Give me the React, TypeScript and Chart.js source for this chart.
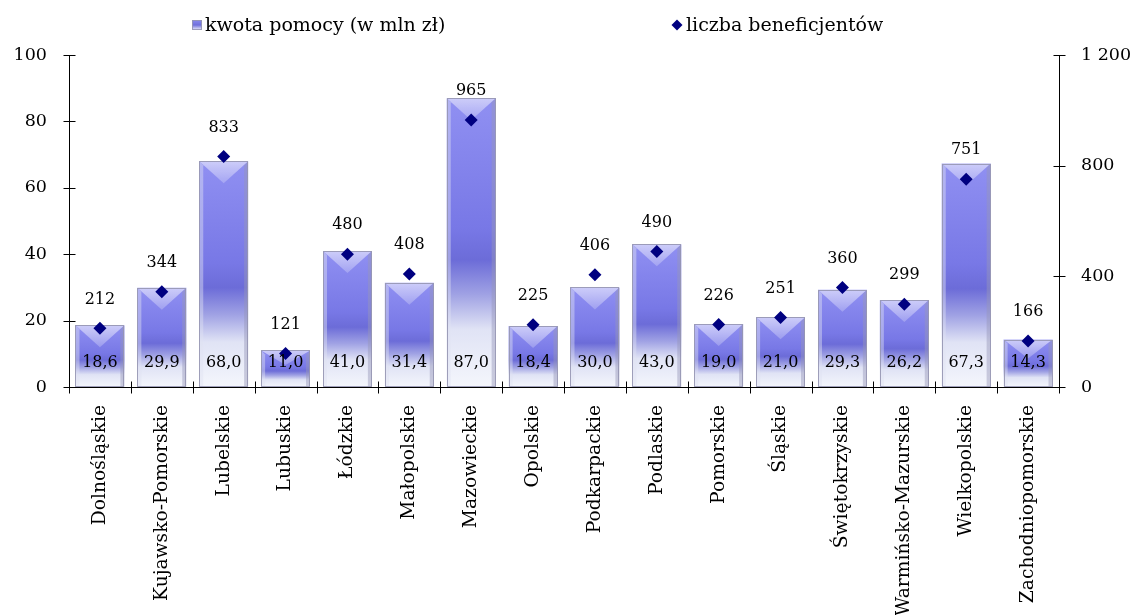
import { useEffect, useRef } from 'react';
import { Chart, registerables } from 'chart.js';

Chart.register(...registerables);

const categories = [
  'Dolnośląskie', 'Kujawsko-Pomorskie', 'Lubelskie', 'Lubuskie', 'Łódzkie', 'Małopolskie',
  'Mazowieckie', 'Opolskie', 'Podkarpackie', 'Podlaskie', 'Pomorskie', 'Śląskie',
  'Świętokrzyskie', 'Warmińsko-Mazurskie', 'Wielkopolskie', 'Zachodniopomorskie',
];
const kwotaPomocy = [18.6, 29.9, 68.0, 11.0, 41.0, 31.4, 87.0, 18.4, 30.0, 43.0, 19.0, 21.0, 29.3, 26.2, 67.3, 14.3];
const liczbaBeneficjentow = [212, 344, 833, 121, 480, 408, 965, 225, 406, 490, 226, 251, 360, 299, 751, 166];
const leftTicks = [0, 20, 40, 60, 80, 100];
const rightTicks = [0, 400, 800, 1200];
const seriesNames = ['kwota pomocy (w mln zł)', 'liczba beneficjentów'];

const FONT = '"DejaVu Serif", serif';

const fmtDec = (v: number) => v.toFixed(1).replace('.', ',');
const fmtThousands = (v: number) =>
  v >= 1000 ? Math.floor(v / 1000) + '\u00a0' + String(v % 1000).padStart(3, '0') : String(v);

function barGradient(ctx: CanvasRenderingContext2D, top: number, base: number) {
  const g = ctx.createLinearGradient(0, top, 0, base);
  g.addColorStop(0, '#9090f2');
  g.addColorStop(0.45, '#7878e6');
  g.addColorStop(0.56, '#6c6cd8');
  g.addColorStop(0.68, '#a0a2e4');
  g.addColorStop(0.8, '#e0e3f5');
  g.addColorStop(1, '#f4f6fc');
  return g;
}

const bevelPlugin = {
  id: 'bevel',
  afterDatasetDraw(chart: any, args: any) {
    if (args.index !== 0) return;
    const ctx: CanvasRenderingContext2D = chart.ctx;
    const meta = chart.getDatasetMeta(0);
    ctx.save();
    meta.data.forEach((el: any) => {
      const { x, y, base, width } = el.getProps(['x', 'y', 'base', 'width'], true);
      const l = x - width / 2;
      const r = x + width / 2;
      const h = base - y;
      const s = 4;
      ctx.fillStyle = 'rgba(225,226,242,0.45)';
      ctx.beginPath();
      ctx.moveTo(l, y); ctx.lineTo(l + s, y + s); ctx.lineTo(l + s, base); ctx.lineTo(l, base);
      ctx.closePath(); ctx.fill();
      ctx.fillStyle = 'rgba(150,150,185,0.45)';
      ctx.beginPath();
      ctx.moveTo(r, y); ctx.lineTo(r - s, y + s); ctx.lineTo(r - s, base); ctx.lineTo(r, base);
      ctx.closePath(); ctx.fill();
      const d = Math.min(22, h * 0.4);
      const g = ctx.createLinearGradient(0, y, 0, y + d);
      g.addColorStop(0, 'rgba(255,255,255,0.55)');
      g.addColorStop(1, 'rgba(255,255,255,0.22)');
      ctx.fillStyle = g;
      ctx.beginPath();
      ctx.moveTo(l, y); ctx.lineTo(r, y); ctx.lineTo(x, y + d);
      ctx.closePath(); ctx.fill();
      ctx.strokeStyle = 'rgba(150,150,178,0.9)';
      ctx.lineWidth = 1;
      ctx.strokeRect(Math.round(l) + 0.5, Math.round(y) + 0.5, Math.round(width) - 1, Math.round(h) - 1);
    });
    ctx.restore();
  },
};

const decorPlugin = {
  id: 'decor',
  afterDraw(chart: any) {
    const ctx: CanvasRenderingContext2D = chart.ctx;
    const { left, right, bottom } = chart.chartArea;
    const yL = chart.scales.y;
    const yR = chart.scales.y1;
    ctx.save();
    ctx.strokeStyle = '#000';
    ctx.lineWidth = 1;
    ctx.beginPath();
    const lx = Math.round(left) + 0.5;
    const rx = Math.round(right) + 0.5;
    leftTicks.forEach((v) => {
      const py = Math.round(yL.getPixelForValue(v)) + 0.5;
      ctx.moveTo(lx - 6, py); ctx.lineTo(lx + 6, py);
    });
    rightTicks.forEach((v) => {
      const py = Math.round(yR.getPixelForValue(v)) + 0.5;
      ctx.moveTo(rx - 6, py); ctx.lineTo(rx + 6, py);
    });
    const n = categories.length;
    const by = Math.round(bottom) + 0.5;
    for (let i = 0; i <= n; i++) {
      const px = Math.round(left + (i * (right - left)) / n) + 0.5;
      ctx.moveTo(px, by - 6); ctx.lineTo(px, by + 6);
    }
    ctx.stroke();

    ctx.fillStyle = '#000';
    ctx.font = `16px ${FONT}`;
    ctx.textAlign = 'center';
    ctx.textBaseline = 'middle';
    chart.getDatasetMeta(0).data.forEach((el: any, i: number) => {
      const { x, base } = el.getProps(['x', 'base'], true);
      ctx.fillText(fmtDec(kwotaPomocy[i]), x, base - 24);
    });
    chart.getDatasetMeta(1).data.forEach((el: any, i: number) => {
      const { x, y } = el.getProps(['x', 'y'], true);
      ctx.fillText(fmtThousands(liczbaBeneficjentow[i]), x, y - 29);
    });

    ctx.font = `19px ${FONT}`;
    ctx.textAlign = 'left';
    const sq = { x: 192, y: 20, s: 10 };
    const lg = ctx.createLinearGradient(0, sq.y, 0, sq.y + sq.s);
    lg.addColorStop(0, '#8a8aee');
    lg.addColorStop(0.5, '#7070dc');
    lg.addColorStop(1, '#f0f2fb');
    ctx.fillStyle = lg;
    ctx.fillRect(sq.x, sq.y, sq.s, sq.s);
    ctx.strokeStyle = 'rgba(150,150,178,0.9)';
    ctx.strokeRect(sq.x + 0.5, sq.y + 0.5, sq.s - 1, sq.s - 1);
    ctx.fillStyle = '#000';
    ctx.fillText(seriesNames[0], 205, 26);
    ctx.fillStyle = '#000080';
    ctx.beginPath();
    const dx = 677, dy = 25, dr = 5.5;
    ctx.moveTo(dx, dy - dr); ctx.lineTo(dx + dr, dy); ctx.lineTo(dx, dy + dr); ctx.lineTo(dx - dr, dy);
    ctx.closePath(); ctx.fill();
    ctx.fillStyle = '#000';
    ctx.fillText(seriesNames[1], 686, 26);
    ctx.restore();
  },
};

export default function App() {
  const ref = useRef<HTMLCanvasElement | null>(null);
  useEffect(() => {
    if (!ref.current) return;
    const chart = new Chart(ref.current, {
      type: 'bar',
      data: {
        labels: categories,
        datasets: [
          {
            type: 'bar',
            label: seriesNames[0],
            data: kwotaPomocy,
            yAxisID: 'y',
            order: 2,
            borderWidth: 0,
            barPercentage: 0.79,
            categoryPercentage: 1,
            backgroundColor: (c: any) => {
              const chart = c.chart;
              if (!chart.chartArea || c.type !== 'data') return '#7a7ae6';
              const y = chart.scales.y;
              return barGradient(chart.ctx, y.getPixelForValue(kwotaPomocy[c.dataIndex]), y.getPixelForValue(0));
            },
          },
          {
            type: 'line',
            label: seriesNames[1],
            data: liczbaBeneficjentow,
            yAxisID: 'y1',
            order: 1,
            showLine: false,
            pointStyle: 'rectRot',
            pointRadius: 6.5,
            pointBorderWidth: 0,
            pointBackgroundColor: '#000080',
            pointBorderColor: '#000080',
          },
        ],
      },
      options: {
        responsive: false,
        animation: false,
        devicePixelRatio: 1,
        layout: { padding: { top: 55, left: 0, right: 0, bottom: 0 } },
        plugins: { legend: { display: false }, tooltip: { enabled: false } },
        scales: {
          x: {
            grid: { display: false, drawTicks: false },
            border: { display: true, color: '#000', width: 1 },
            ticks: {
              color: '#000',
              font: { family: FONT, size: 18.7 },
              minRotation: 90,
              maxRotation: 90,
              autoSkip: false,
              padding: 18,
            },
            afterFit: (s: any) => { s.height = 228; },
          },
          y: {
            position: 'left',
            min: 0,
            max: 100,
            grid: { display: false, drawTicks: false },
            border: { display: true, color: '#000', width: 1 },
            ticks: { stepSize: 20, color: '#000', font: { family: FONT, size: 17.5 }, padding: 22 },
            afterFit: (s: any) => { s.width = 69; },
          },
          y1: {
            position: 'right',
            min: 0,
            max: 1200,
            grid: { display: false, drawTicks: false },
            border: { display: true, color: '#000', width: 1 },
            ticks: {
              stepSize: 400,
              color: '#000',
              font: { family: FONT, size: 17.5 },
              padding: 22,
              callback: (v: any) => fmtThousands(Number(v)),
            },
            afterFit: (s: any) => { s.width = 76; },
          },
        },
      },
      plugins: [bevelPlugin, decorPlugin],
    });
    return () => chart.destroy();
  }, []);
  return (
    <div style={{ position: 'fixed', left: 0, top: 0, width: 1135, height: 615, background: '#fff' }}>
      <canvas ref={ref} width={1135} height={615} style={{ display: 'block' }} />
    </div>
  );
}
